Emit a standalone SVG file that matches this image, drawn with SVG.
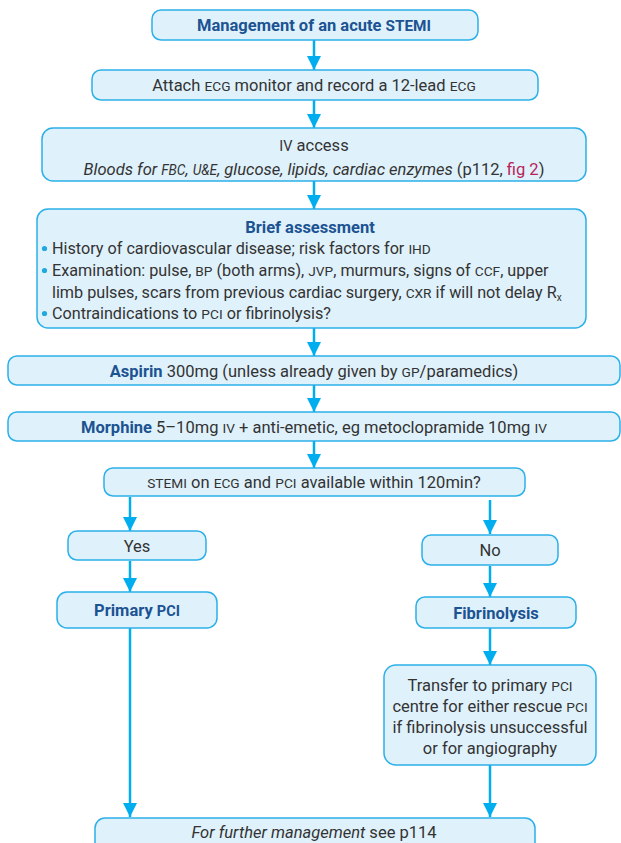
<svg xmlns="http://www.w3.org/2000/svg" width="621" height="843" viewBox="0 0 621 843">
<style>
.box{fill:#dff1fb;stroke:#2bb0e8;stroke-width:1.5}
text{font-family:Roboto,"Liberation Sans",sans-serif;font-size:16.5px;fill:#333333}
.c{text-anchor:middle}
.h{font-weight:bold;fill:#1c5392}
.sc{font-size:13.7px}
.i{font-style:italic}
.a{font-size:16.2px}
.dot{fill:#20a8e0}
.conn line{stroke:#00aeef;stroke-width:2.5}
</style>
<defs>
<marker id="arr" markerWidth="14" markerHeight="14" refX="14" refY="7" orient="auto" markerUnits="userSpaceOnUse" viewBox="0 0 14 14">
<path d="M0,0 L14,7 L0,14 Z" fill="#00aeef"/>
</marker>
</defs>
<g class="conn">
<line x1="314" y1="40" x2="314" y2="70" marker-end="url(#arr)"/>
<line x1="314" y1="100" x2="314" y2="128" marker-end="url(#arr)"/>
<line x1="314" y1="181" x2="314" y2="209" marker-end="url(#arr)"/>
<line x1="314" y1="328" x2="314" y2="356" marker-end="url(#arr)"/>
<line x1="314" y1="385" x2="314" y2="412" marker-end="url(#arr)"/>
<line x1="314" y1="441" x2="314" y2="468" marker-end="url(#arr)"/>
<line x1="130" y1="497" x2="130" y2="531" marker-end="url(#arr)"/>
<line x1="130" y1="561" x2="130" y2="592" marker-end="url(#arr)"/>
<line x1="130" y1="628" x2="130" y2="817" marker-end="url(#arr)"/>
<line x1="490" y1="500" x2="490" y2="534" marker-end="url(#arr)"/>
<line x1="490" y1="566" x2="490" y2="597" marker-end="url(#arr)"/>
<line x1="490" y1="628" x2="490" y2="665" marker-end="url(#arr)"/>
<line x1="490" y1="765" x2="490" y2="817" marker-end="url(#arr)"/>
</g>
<g id="title">
<rect class="box" x="152" y="10" width="326" height="30" rx="9"/>
<text class="c h" x="314" y="31" font-size="19">Management of an acute <tspan font-size="15.3">STEMI</tspan></text>
</g>
<g id="ecg">
<rect class="box" x="92" y="70" width="446" height="30" rx="9"/>
<text class="c" x="314" y="91">Attach <tspan class="sc">ECG</tspan> monitor and record a 12-lead <tspan class="sc">ECG</tspan></text>
</g>
<g id="iv">
<rect class="box" x="42" y="128" width="544" height="53" rx="11"/>
<text class="c" x="314" y="151"><tspan font-size="14.5">IV</tspan> access</text>
<text class="c" x="314" y="175"><tspan class="i">Bloods for <tspan class="sc">FBC</tspan>, <tspan class="sc">U&amp;E</tspan>, glucose, lipids, cardiac enzymes</tspan> (p112, <tspan fill="#b8245a">fig 2</tspan>)</text>
</g>
<g id="assessment">
<rect class="box" x="37" y="209" width="549" height="119" rx="11"/>
<text class="c h" x="310" y="233" font-size="18.5">Brief assessment</text>
<circle class="dot" cx="44.5" cy="248.5" r="2.6"/>
<circle class="dot" cx="44.5" cy="270.5" r="2.6"/>
<circle class="dot" cx="44.5" cy="313.5" r="2.6"/>
<text class="a" x="52" y="254">History of cardiovascular disease; risk factors for <tspan class="sc">IHD</tspan></text>
<text class="a" x="52" y="276">Examination: pulse, <tspan class="sc">BP</tspan> (both arms), <tspan class="sc">JVP</tspan>, murmurs, signs of <tspan class="sc">CCF</tspan>, upper</text>
<text class="a" x="52" y="298">limb pulses, scars from previous cardiac surgery, <tspan class="sc">CXR</tspan> if will not delay R<tspan font-size="10" dy="3">x</tspan></text>
<text class="a" x="52" y="319">Contraindications to <tspan class="sc">PCI</tspan> or fibrinolysis?</text>
</g>
<g id="aspirin">
<rect class="box" x="8" y="356" width="612" height="29" rx="9"/>
<text class="c" x="314" y="377"><tspan class="h">Aspirin</tspan> 300mg (unless already given by <tspan class="sc">GP</tspan>/paramedics)</text>
</g>
<g id="morphine">
<rect class="box" x="8" y="412" width="612" height="29" rx="9"/>
<text class="c" x="314" y="433"><tspan class="h">Morphine</tspan> 5–10mg <tspan class="sc">IV</tspan> + anti-emetic, eg metoclopramide 10mg <tspan class="sc">IV</tspan></text>
</g>
<g id="question">
<rect class="box" x="104" y="468" width="421" height="28" rx="9"/>
<text class="c" x="314" y="488"><tspan class="sc">STEMI</tspan> on <tspan class="sc">ECG</tspan> and <tspan class="sc">PCI</tspan> available within 120min?</text>
</g>
<g id="yes">
<rect class="box" x="68" y="531" width="138" height="29" rx="9"/>
<text class="c" x="137" y="552">Yes</text>
</g>
<g id="primary">
<rect class="box" x="57" y="592" width="160" height="36" rx="10"/>
<text class="c h" x="137" y="616" font-size="18">Primary <tspan font-size="14.5">PCI</tspan></text>
</g>
<g id="no">
<rect class="box" x="422" y="535" width="136" height="30" rx="9"/>
<text class="c" x="490" y="556">No</text>
</g>
<g id="fibrinolysis">
<rect class="box" x="416" y="597" width="160" height="31" rx="9"/>
<text class="c h" x="496" y="619" font-size="18">Fibrinolysis</text>
</g>
<g id="transfer">
<rect class="box" x="384" y="665" width="212" height="100" rx="12"/>
<text class="c" x="490" y="691">Transfer to primary <tspan class="sc">PCI</tspan></text>
<text class="c" x="490" y="712">centre for either rescue <tspan class="sc">PCI</tspan></text>
<text class="c" x="490" y="733">if fibrinolysis unsuccessful</text>
<text class="c" x="490" y="754">or for angiography</text>
</g>
<g id="further">
<rect class="box" x="95" y="818" width="440" height="40" rx="10"/>
<text class="c" x="314" y="838"><tspan class="i">For further management</tspan> see p114</text>
</g>
</svg>
